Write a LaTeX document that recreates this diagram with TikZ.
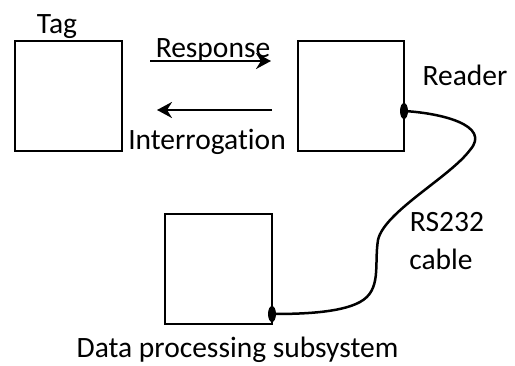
\documentclass[tikz,border=0pt]{standalone}
\usepackage{fontspec}
\setmainfont{Carlito}[RawFeature={-liga}]
\usetikzlibrary{arrows.meta,shapes.geometric}
\begin{document}
\begin{tikzpicture}[x=1pt,y=-1pt,
  blk/.style={draw=black,line width=2pt,minimum width=107pt,minimum height=110pt,inner sep=0pt},
  lbl/.style={anchor=base,inner sep=0pt,font=\fontsize{29.5}{34}\selectfont},
  dotc/.style={ellipse,fill=black,minimum width=8pt,minimum height=16pt,inner sep=0pt},
  sig/.style={line width=2.5pt,-{Stealth[length=15pt,width=16pt,inset=5pt]}},
  cab/.style={line width=2.5pt}]
\useasboundingbox (0,0) rectangle (515,365);
\node[blk] (tag) at (68.5,96) {};
\node[blk,minimum width=106pt] (reader) at (351,96) {};
\node[blk] (dps) at (218.5,269) {};
\node[lbl] (tagl) at (57,33) {Tag};
\node[lbl] (respl) at (213,57) {Response};
\node[lbl] (intl) at (207,149) {Interrogation};
\node[lbl] (readl) at (465,85) {Reader};
\node[lbl] (rsl) at (447,231) {RS232};
\node[lbl] (cabl) at (441,269) {cable};
\node[lbl] (dpsl) at (237.5,357) {Data processing subsystem};
\coordinate (r1) at (150,61);
\coordinate (r2) at (271,61);
\coordinate (i1) at (272,110);
\coordinate (i2) at (157,110);
\draw[sig] (r1) -- (r2);
\draw[sig] (i1) -- (i2);
\coordinate (c1) at (470,150);
\coordinate (c2) at (378,240);
\coordinate (c3) at (360,302);
\draw[cab] (404,111) coordinate (s) .. controls (440,113) and (492,125) .. (c1)
  .. controls (450,177) and (384,212) .. (c2)
  .. controls (374,265) and (382,290) .. (c3)
  .. controls (340,313) and (300,314) .. (272,314) coordinate (e);
\node[dotc] (d1) at (s) {};
\node[dotc] (d2) at (e) {};
\end{tikzpicture}
\end{document}
